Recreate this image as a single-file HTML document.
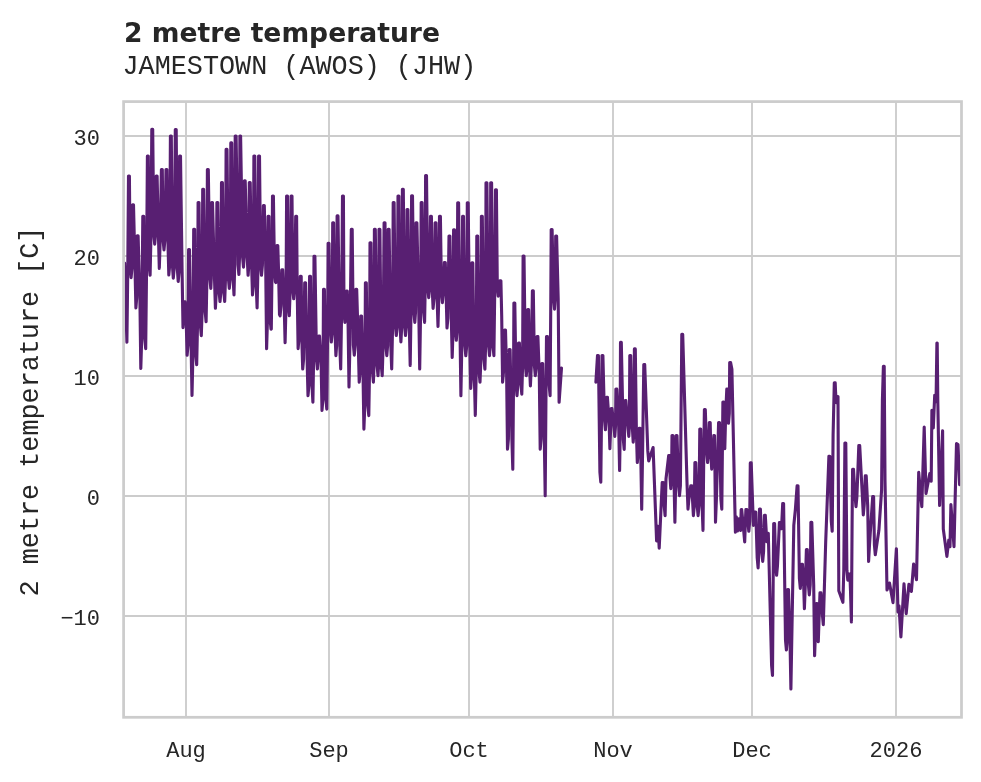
<!DOCTYPE html>
<html><head><meta charset="utf-8">
<style>
html,body{margin:0;padding:0;background:#fff;}
body{width:981px;height:782px;overflow:hidden;position:relative;}
svg{position:absolute;left:0;top:0;}
.t{font-family:"DejaVu Sans",sans-serif;font-weight:bold;font-size:26.6px;fill:#262626;}
.s{font-family:"Liberation Mono",monospace;font-size:26.8px;fill:#262626;}
.k{font-family:"Liberation Mono",monospace;font-size:22px;fill:#262626;}
.y{font-family:"Liberation Mono",monospace;font-size:26.8px;fill:#262626;}
</style></head><body>
<svg width="981" height="782" viewBox="0 0 981 782">
<rect width="981" height="782" fill="#fff"/>
<g stroke="#cccccc" stroke-width="1.85" fill="none">
<path d="M186 102V717M329 102V717M469 102V717M613 102V717M752 102V717M896 102V717"/>
<path d="M124 136H961M124 256H961M124 376H961M124 496H961M124 616H961"/>
</g>
<g id="data" fill="none" stroke="#581f72" stroke-width="3.1" stroke-linejoin="round" stroke-linecap="round">
<path d="M124.6 263.0 L126.9 342.2 L127.8 267.7 L128.5 176.1 L129.4 176.1 L130.2 267.7 L131.1 277.7 L132.0 267.7 L132.6 204.7 L133.5 204.7 L135.0 267.7 L135.9 308.0 L136.7 298.0 L137.2 235.8 L138.1 235.8 L139.9 298.0 L140.8 368.4 L141.7 338.7 L142.8 216.2 L143.7 216.2 L144.8 338.7 L145.7 348.7 L146.6 265.3 L147.4 156.0 L148.3 156.0 L149.2 265.3 L150.1 275.3 L151.0 234.2 L151.8 129.2 L152.7 129.2 L153.8 234.2 L154.7 244.2 L155.6 234.2 L156.2 176.1 L157.1 176.1 L158.4 234.2 L159.3 268.4 L160.2 239.9 L161.4 169.6 L162.3 169.6 L163.1 239.9 L164.0 249.9 L164.9 239.9 L166.0 169.6 L166.9 169.6 L167.9 239.9 L168.8 275.0 L169.7 265.0 L170.4 136.0 L171.3 136.0 L172.4 265.0 L173.3 278.2 L174.2 268.2 L175.3 129.5 L176.2 129.5 L177.3 268.2 L178.2 281.5 L179.1 271.5 L179.6 156.0 L180.5 156.0 L182.1 271.5 L183.0 327.6 L183.7 317.6 L184.2 301.8 L185.1 301.8 L186.2 320.5 L187.1 355.3 L188.0 345.3 L188.6 249.5 L189.5 249.5 L191.1 345.3 L192.0 395.4 L192.9 354.8 L193.7 229.3 L194.6 229.3 L195.8 354.8 L196.7 364.8 L197.5 325.7 L198.1 202.6 L199.0 202.6 L200.4 325.7 L201.3 335.7 L202.1 311.8 L202.7 189.2 L203.6 189.2 L205.2 311.8 L206.1 321.8 L206.9 278.4 L207.4 169.6 L208.3 169.6 L209.9 278.4 L210.8 288.4 L211.3 278.4 L211.7 202.6 L212.5 202.6 L214.5 278.4 L215.4 308.3 L216.3 291.5 L216.9 202.6 L217.8 202.6 L219.1 291.5 L220.0 301.5 L220.9 291.5 L221.5 182.6 L222.4 182.6 L223.8 291.5 L224.7 301.5 L225.5 278.4 L226.1 149.4 L227.0 149.4 L228.4 278.4 L229.3 288.4 L230.2 278.4 L230.8 142.9 L231.7 142.9 L233.1 278.4 L234.0 294.9 L234.7 264.5 L235.2 136.0 L236.1 136.0 L238.0 264.5 L238.9 274.5 L239.5 257.1 L239.9 136.0 L240.6 136.0 L242.6 257.1 L243.5 267.1 L244.1 257.1 L244.4 180.7 L245.2 180.7 L247.2 257.1 L248.1 275.3 L248.8 265.3 L249.3 182.6 L250.2 182.6 L251.6 265.3 L252.5 294.9 L253.3 284.9 L253.9 156.0 L254.8 156.0 L256.2 284.9 L257.1 308.0 L258.0 265.3 L258.6 156.0 L259.5 156.0 L260.6 265.3 L261.5 275.3 L262.4 265.3 L263.4 205.6 L264.3 205.6 L265.7 265.3 L266.6 348.7 L267.5 319.1 L268.1 216.2 L269.0 216.2 L270.1 319.1 L271.0 329.1 L271.3 328.9 L272.0 271.8 L272.5 196.1 L273.4 196.1 L274.5 271.8 L275.4 281.8 L275.9 282.5 L276.5 272.5 L276.9 245.6 L277.8 245.6 L278.6 272.5 L279.5 314.6 L280.1 315.8 L281.0 305.8 L281.8 269.7 L282.7 269.7 L284.2 305.8 L285.1 342.8 L286.0 305.8 L286.6 196.1 L287.5 196.1 L288.4 305.8 L289.3 315.8 L290.2 288.8 L291.1 196.1 L292.0 196.1 L292.8 288.8 L293.7 298.8 L294.6 288.8 L295.7 216.2 L296.6 216.2 L297.2 288.8 L298.1 348.6 L299.0 338.6 L300.3 276.3 L301.2 276.3 L301.8 338.6 L302.7 369.0 L303.6 359.0 L304.7 282.8 L305.6 282.8 L307.1 359.0 L308.0 395.7 L308.9 385.7 L309.6 276.3 L310.5 276.3 L312.0 385.7 L312.9 402.2 L313.6 359.0 L314.0 256.2 L314.9 256.2 L316.5 359.0 L317.4 369.0 L318.2 359.0 L318.6 336.0 L319.5 336.0 L321.1 362.0 L322.0 410.4 L322.9 399.1 L323.5 289.4 L324.4 289.4 L325.9 399.1 L326.8 409.1 L327.6 332.0 L328.1 243.2 L329.0 243.2 L330.4 332.0 L331.3 342.0 L332.2 332.0 L332.7 222.7 L333.6 222.7 L335.0 332.0 L335.9 355.6 L336.6 345.6 L337.1 215.9 L338.0 215.9 L339.8 345.6 L340.7 369.0 L341.6 312.4 L342.5 196.1 L343.4 196.1 L344.0 312.4 L344.9 322.4 L345.8 312.4 L346.4 291.0 L347.3 291.0 L348.1 324.6 L349.0 387.0 L349.9 345.1 L351.3 229.3 L352.2 229.3 L353.4 345.1 L354.3 355.1 L355.2 345.1 L355.8 289.4 L356.7 289.4 L358.3 345.1 L359.2 382.1 L360.1 372.1 L360.7 316.0 L361.6 316.0 L363.0 372.1 L363.9 429.1 L364.8 405.6 L365.4 282.8 L366.3 282.8 L367.9 405.6 L368.8 415.6 L369.5 372.1 L370.0 242.7 L370.9 242.7 L372.5 372.1 L373.4 382.1 L374.0 365.6 L374.4 229.3 L375.3 229.3 L377.1 365.6 L378.0 375.6 L378.6 365.6 L379.0 229.3 L379.9 229.3 L381.3 365.6 L382.2 375.6 L383.1 345.6 L384.1 222.7 L385.0 222.7 L385.9 345.6 L386.8 355.6 L387.6 345.6 L388.2 229.3 L389.1 229.3 L390.8 345.6 L391.7 369.0 L392.6 325.5 L393.2 202.6 L394.1 202.6 L395.4 325.5 L396.3 335.5 L397.2 325.5 L398.0 196.1 L398.9 196.1 L400.0 325.5 L400.9 342.0 L401.8 325.5 L402.4 189.2 L403.3 189.2 L404.6 325.5 L405.5 335.5 L406.4 325.5 L407.0 209.6 L407.9 209.6 L409.3 325.5 L410.2 365.4 L411.0 312.4 L411.6 195.7 L412.5 195.7 L413.9 312.4 L414.8 322.4 L415.5 312.4 L416.0 222.7 L416.9 222.7 L418.8 312.4 L419.7 369.0 L420.6 312.4 L421.2 202.6 L422.1 202.6 L423.7 312.4 L424.6 322.4 L425.2 287.7 L425.6 175.6 L426.5 175.6 L427.8 287.7 L428.7 297.7 L429.6 287.7 L430.5 216.2 L431.4 216.2 L432.2 287.7 L433.1 308.4 L434.0 298.4 L435.1 222.8 L436.0 222.8 L437.1 298.4 L438.0 326.4 L438.9 292.7 L439.5 216.2 L440.4 216.2 L441.5 292.7 L442.4 302.7 L443.3 292.7 L444.4 262.5 L445.3 262.5 L446.1 292.7 L447.0 328.0 L447.9 318.0 L449.0 236.0 L449.9 236.0 L451.3 318.0 L452.2 357.5 L453.0 330.3 L453.6 229.8 L454.5 229.8 L455.4 330.3 L456.3 340.3 L457.1 330.3 L457.7 202.8 L458.6 202.8 L460.0 330.3 L460.9 395.7 L461.8 345.8 L462.6 216.2 L463.5 216.2 L464.9 345.8 L465.8 355.8 L466.7 345.8 L467.3 202.8 L468.2 202.8 L469.8 345.8 L470.7 388.4 L471.4 378.4 L471.9 262.9 L472.8 262.9 L474.4 378.4 L475.3 415.4 L476.2 372.2 L476.8 236.0 L477.7 236.0 L479.1 372.2 L480.0 382.2 L480.9 359.1 L481.4 216.2 L482.3 216.2 L484.0 359.1 L484.9 369.1 L485.6 345.7 L486.0 182.7 L486.9 182.7 L488.6 345.7 L489.5 355.7 L490.2 345.7 L490.7 182.7 L491.6 182.7 L493.0 345.7 L493.9 355.7 L494.8 286.1 L495.5 189.7 L496.4 189.7 L497.3 286.1 L498.2 296.1 L499.1 286.2 L500.0 280.9 L500.9 280.9 L501.7 316.4 L502.6 382.2 L503.5 372.2 L504.6 330.0 L505.5 330.0 L506.6 372.2 L507.5 449.2 L508.4 439.2 L509.2 349.6 L510.1 349.6 L511.9 439.2 L512.8 469.3 L513.5 385.7 L513.9 303.0 L514.8 303.0 L516.1 385.7 L517.0 395.7 L517.9 384.1 L518.5 343.1 L519.4 343.1 L520.9 384.1 L521.8 394.1 L522.6 365.6 L523.1 256.0 L524.0 256.0 L525.4 365.6 L526.3 375.6 L527.1 365.6 L527.7 309.6 L528.6 309.6 L529.5 365.6 L530.4 385.9 L531.3 365.6 L532.4 290.7 L533.3 290.7 L534.4 365.6 L535.3 375.6 L536.2 365.6 L537.0 336.6 L537.9 336.6 L539.3 376.0 L540.2 449.2 L541.1 439.2 L541.8 363.5 L542.7 363.5 L544.3 439.2 L545.2 495.8 L546.0 392.3 L546.5 336.6 L547.4 336.6 L549.2 385.7 L550.1 395.7 L550.8 299.2 L551.2 229.5 L552.1 229.5 L553.6 299.2 L554.5 309.2 L555.2 299.2 L555.7 236.0 L556.6 236.0 L558.2 299.2 L559.1 402.3 L561.5 368.0"/>
<path d="M595.9 382.2 L597.5 355.5 L598.4 355.5 L599.9 472.2 L600.8 482.2 L601.5 419.8 L602.0 355.5 L602.9 355.5 L604.5 419.8 L605.4 429.8 L606.1 419.8 L606.5 397.2 L607.4 397.2 L609.0 419.8 L609.9 448.6 L610.7 426.4 L611.1 408.6 L612.0 408.6 L613.9 426.4 L614.8 436.4 L615.5 426.4 L615.9 389.0 L616.8 389.0 L618.7 426.4 L619.6 470.4 L620.1 439.4 L620.5 342.4 L621.3 342.4 L623.3 439.4 L624.2 449.4 L624.7 426.4 L625.1 400.5 L625.9 400.5 L627.9 426.4 L628.8 436.4 L629.4 426.4 L629.8 355.5 L630.7 355.5 L632.3 426.4 L633.2 442.1 L633.9 432.1 L634.4 348.9 L635.3 348.9 L636.4 432.1 L637.3 462.5 L638.2 452.5 L639.3 428.3 L640.2 428.3 L640.8 456.6 L641.7 509.2 L642.6 450.9 L643.8 364.5 L644.7 364.5 L647.8 450.9 L648.7 460.9 L653.1 447.5 L656.6 540.9 L658.0 526.3 L659.2 548.2 L662.2 482.5 L663.1 482.5 L664.2 505.7 L665.1 515.7 L666.0 478.7 L668.7 455.5 L669.6 455.5 L670.1 478.7 L670.8 488.7 L671.5 478.7 L672.0 435.6 L672.9 435.6 L674.0 478.7 L674.9 522.2 L675.6 485.6 L676.1 435.6 L677.0 435.6 L678.6 485.6 L679.5 495.6 L680.4 485.6 L681.8 334.2 L682.7 334.2 L687.1 485.6 L688.0 509.2 L688.9 499.2 L690.8 485.7 L691.7 485.7 L692.5 499.2 L693.4 515.7 L694.3 505.7 L694.9 462.5 L695.8 462.5 L697.2 505.7 L698.1 515.7 L699.0 505.7 L699.8 429.1 L700.7 429.1 L702.1 505.7 L703.0 530.4 L703.8 452.5 L704.4 409.5 L705.3 409.5 L706.7 452.5 L707.6 462.5 L708.5 452.5 L709.3 422.5 L710.2 422.5 L710.8 452.5 L711.7 469.1 L712.6 459.1 L713.8 435.6 L714.5 435.6 L714.9 466.0 L715.5 522.2 L716.4 499.2 L718.6 422.5 L719.5 422.5 L720.9 499.2 L721.8 509.2 L722.5 439.6 L722.9 402.1 L723.8 402.1 L724.2 438.6 L724.8 448.6 L725.7 413.3 L726.8 389.0 L727.6 389.0 L728.0 413.3 L728.5 423.3 L729.3 413.3 L729.7 362.5 L730.6 362.5 L731.9 369.4 L735.4 532.1 L736.3 516.9 L737.5 531.0 L739.0 518.9 L740.6 530.5 L741.2 509.6 L741.7 509.6 L743.8 531.9 L744.7 541.9 L745.4 521.3 L745.9 509.6 L746.8 509.6 L747.9 521.3 L748.8 531.3 L749.7 521.3 L750.3 462.9 L751.2 462.9 L753.4 525.4 L754.9 512.0 L755.8 512.0 L757.2 557.9 L758.1 567.9 L758.9 551.4 L759.5 509.1 L760.4 509.1 L761.8 551.4 L762.7 561.4 L763.6 551.4 L764.4 515.3 L765.3 515.3 L766.8 541.8 L767.6 533.3 L768.3 533.3 L771.6 665.4 L772.5 675.4 L773.2 576.6 L773.7 523.5 L774.6 523.5 L775.7 565.3 L776.6 575.3 L777.5 565.3 L779.4 522.6 L780.3 522.6 L781.5 528.7 L782.7 503.5 L783.6 503.5 L785.5 640.0 L786.4 650.0 L787.2 640.0 L787.6 589.6 L788.5 589.6 L790.0 640.0 L790.9 689.0 L793.8 525.4 L795.4 509.1 L797.1 485.8 L798.0 485.8 L799.4 578.4 L800.3 588.4 L801.1 578.4 L801.5 564.2 L802.4 564.2 L803.5 579.8 L804.4 608.8 L805.3 584.9 L806.4 549.5 L807.3 549.5 L808.4 584.9 L809.3 594.9 L810.2 584.9 L810.9 522.2 L811.8 522.2 L813.7 584.9 L814.6 655.7 L815.5 631.8 L816.3 603.5 L817.2 603.5 L817.6 631.8 L818.3 641.8 L819.2 614.7 L820.0 592.8 L820.9 592.8 L822.4 614.7 L823.3 624.7 L825.7 541.8 L828.9 456.2 L829.8 456.2 L831.3 521.3 L832.2 531.3 L833.1 434.8 L834.3 382.9 L835.2 382.9 L835.6 392.7 L836.3 402.7 L837.3 396.5 L838.0 396.5 L838.8 590.7 L842.9 602.3 L843.8 570.2 L844.9 443.1 L845.8 443.1 L846.9 570.2 L847.8 580.2 L849.0 574.0 L849.9 574.0 L850.5 590.8 L851.4 621.9 L852.1 522.7 L852.6 469.3 L853.5 469.3 L855.1 496.7 L856.0 506.7 L856.9 496.7 L858.8 445.6 L859.7 445.6 L862.4 496.7 L863.3 514.9 L864.2 504.9 L865.3 475.8 L866.2 475.8 L867.7 505.8 L868.6 561.4 L869.5 544.8 L872.7 496.5 L873.6 496.5 L874.4 544.8 L875.3 554.8 L878.9 530.3 L881.6 489.9 L882.4 399.9 L883.4 366.2 L884.2 366.2 L885.0 480.0 L887.0 590.0 L889.5 583.0 L893.0 602.6 L896.4 548.7 L898.0 612.0 L899.0 605.8 L900.9 636.9 L904.0 583.8 L906.2 613.6 L908.9 584.3 L911.4 591.5 L913.6 564.1 L916.5 579.7 L918.7 472.4 L921.8 506.7 L924.2 427.0 L926.0 493.4 L929.8 473.6 L931.2 481.3 L931.9 410.3 L933.3 428.0 L934.7 395.3 L935.5 402.0 L936.2 392.0 L936.9 343.0 L937.2 343.0 L937.8 400.0 L939.6 505.5 L942.6 430.7 L943.3 529.0 L946.9 556.4 L948.8 540.0 L950.0 546.6 L950.9 504.6 L954.0 546.6 L956.5 443.6 L958.0 444.5 L959.6 484.8"/>
</g>
<rect x="123.6" y="101.6" width="837.9" height="615.7" fill="none" stroke="#cccccc" stroke-width="2.75"/>
<text class="t" x="124" y="42.2">2 metre temperature</text>
<text class="s" x="122.5" y="74.3">JAMESTOWN (AWOS) (JHW)</text>
<g class="k" text-anchor="end">
<text x="100" y="144.8">30</text>
<text x="100" y="264.8">20</text>
<text x="100" y="384.8">10</text>
<text x="100" y="504.8">0</text>
<text x="100" y="624.8">−10</text>
</g>
<g class="k" text-anchor="middle">
<text x="186" y="756.5">Aug</text>
<text x="329" y="756.5">Sep</text>
<text x="469" y="756.5">Oct</text>
<text x="613" y="756.5">Nov</text>
<text x="752" y="756.5">Dec</text>
<text x="896" y="756.5">2026</text>
</g>
<text class="y" text-anchor="middle" transform="translate(38 411.5) rotate(-90)">2 metre temperature [C]</text>
</svg>
</body></html>
